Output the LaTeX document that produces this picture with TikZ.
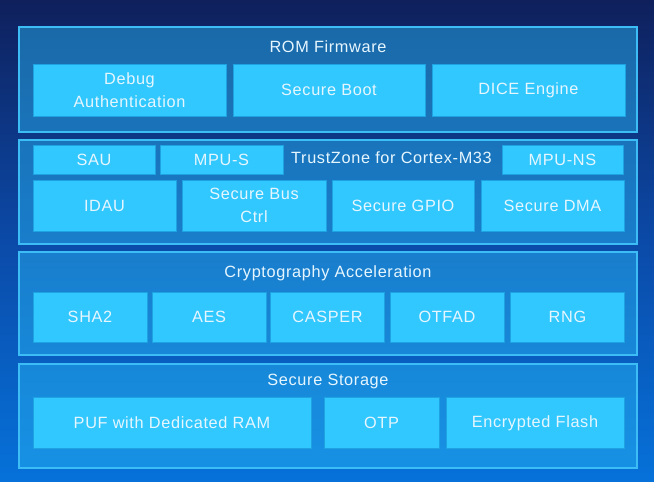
\documentclass[tikz,border=0pt]{standalone}
\usepackage{fontspec}
\setmainfont[LetterSpace=4]{Liberation Sans}
\definecolor{bgtop}{HTML}{0F205C}
\definecolor{bgmid}{HTML}{0B4AA8}
\definecolor{bgbot}{HTML}{0672DA}
\definecolor{panelfill}{HTML}{29B6F3}
\definecolor{panelline}{HTML}{3DBDF5}
\definecolor{boxfill}{HTML}{31C8FF}
\definecolor{boxline}{HTML}{1EA2E2}
\definecolor{txt}{HTML}{E6F6FF}
\begin{document}
\begin{tikzpicture}[x=1pt,y=-1pt,
  panel/.style={draw=panelline, line width=1.3pt, fill=panelfill, fill opacity=0.48, draw opacity=1, text opacity=1},
  box/.style={draw=boxline, line width=1pt, fill=boxfill, text=txt, align=center,
    font=\fontsize{16.3}{22.5}\selectfont, inner sep=0pt},
  title/.style={text=txt, font=\fontsize{16.3}{20}\selectfont, inner sep=0pt}]
\useasboundingbox (0,0) rectangle (654,482);
\shade[top color=bgtop, bottom color=bgbot, middle color=bgmid] (0,0) rectangle (654,482);
% panels
\node[panel, minimum width=618pt, minimum height=105pt] (p1) at (328,79.5) {};
\node[panel, minimum width=618pt, minimum height=104pt] (p2) at (328,192) {};
\node[panel, minimum width=618pt, minimum height=103pt] (p3) at (328,303.5) {};
\node[panel, minimum width=618pt, minimum height=104pt] (p4) at (328,416) {};
% ROM Firmware
\node[title] (t1) at (328,47) {ROM Firmware};
\node[box, minimum width=193pt, minimum height=52pt] (debug) at (129.5,90) {Debug\\Authentication};
\node[box, minimum width=192pt, minimum height=52pt] (sboot) at (329,90) {Secure Boot};
\node[box, minimum width=193pt, minimum height=52pt] (dice) at (528.5,90) {DICE Engine};
% TrustZone
\node[title, anchor=west] (t2) at (291,157.5) {TrustZone for Cortex-M33};
\node[box, minimum width=122pt, minimum height=29pt] (sau) at (94,159.5) {SAU};
\node[box, minimum width=123pt, minimum height=29pt] (mpus) at (221.5,159.5) {MPU-S};
\node[box, minimum width=121pt, minimum height=29pt] (mpuns) at (562.5,159.5) {MPU-NS};
\node[box, minimum width=143pt, minimum height=51pt] (idau) at (104.5,205.5) {IDAU};
\node[box, minimum width=144pt, minimum height=51pt] (sbus) at (254,205.5) {Secure Bus\\Ctrl};
\node[box, minimum width=142pt, minimum height=51pt] (sgpio) at (403,205.5) {Secure GPIO};
\node[box, minimum width=143pt, minimum height=51pt] (sdma) at (552.5,205.5) {Secure DMA};
% Cryptography
\node[title] (t3) at (328,273) {Cryptography Acceleration};
\node[box, minimum width=114pt, minimum height=50pt] (sha) at (90,317) {SHA2};
\node[box, minimum width=114pt, minimum height=50pt] (aes) at (209,317) {AES};
\node[box, minimum width=114pt, minimum height=50pt] (casper) at (327.5,317) {CASPER};
\node[box, minimum width=114pt, minimum height=50pt] (otfad) at (447,317) {OTFAD};
\node[box, minimum width=114pt, minimum height=50pt] (rng) at (567.5,317) {RNG};
% Secure Storage
\node[title] (t4) at (328,381) {Secure Storage};
\node[box, minimum width=278pt, minimum height=51pt] (puf) at (172,423) {PUF with Dedicated RAM};
\node[box, minimum width=115pt, minimum height=51pt] (otp) at (381.5,423) {OTP};
\node[box, minimum width=178pt, minimum height=51pt] (eflash) at (535,423) {Encrypted Flash};
\end{tikzpicture}
\end{document}
